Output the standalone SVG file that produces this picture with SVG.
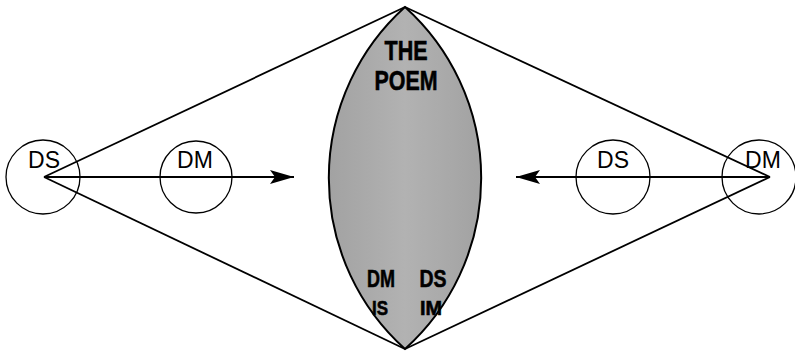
<svg xmlns="http://www.w3.org/2000/svg" width="795" height="353" viewBox="0 0 795 353">
<style>
.ln{stroke:#000;stroke-width:1.8;fill:none}
.c{stroke:#000;stroke-width:1.3;fill:none}
.lb{font-family:"Liberation Sans",Arial,sans-serif;font-size:23px;fill:#000;text-anchor:middle}
.bd{font-family:"Liberation Sans",Arial,sans-serif;font-weight:bold;fill:#000;stroke:#000;stroke-width:0.6;text-anchor:middle}
</style>
<defs>
<marker id="ah" markerWidth="24" markerHeight="14" refX="24" refY="7" orient="auto" markerUnits="userSpaceOnUse">
<path d="M0,0 L24,7 L0,14 L5,7 Z" fill="#000"/>
</marker>
<linearGradient id="g" x1="0" y1="0" x2="1" y2="0">
<stop offset="0" stop-color="#a2a2a2"/>
<stop offset="0.5" stop-color="#b2b2b2"/>
<stop offset="1" stop-color="#a2a2a2"/>
</linearGradient>
</defs>
<g id="poem">
<path d="M405,7 A230,230 0 0,0 405,349 A230,230 0 0,0 405,7 Z" fill="url(#g)" stroke="#000" stroke-width="2"/>
<text class="bd" x="406" y="60" font-size="28" textLength="43" lengthAdjust="spacingAndGlyphs">THE</text>
<text class="bd" x="406" y="90" font-size="28" textLength="63" lengthAdjust="spacingAndGlyphs">POEM</text>
<text class="bd" x="381" y="287" font-size="23" textLength="28" lengthAdjust="spacingAndGlyphs">DM</text>
<text class="bd" x="433" y="287" font-size="23" textLength="27" lengthAdjust="spacingAndGlyphs">DS</text>
<text class="bd" x="380" y="315" font-size="21" textLength="16" lengthAdjust="spacingAndGlyphs">IS</text>
<text class="bd" x="431" y="315" font-size="21" textLength="22" lengthAdjust="spacingAndGlyphs">IM</text>
</g>
<g id="connectors">
<line class="ln" x1="44" y1="177" x2="405" y2="7"/>
<line class="ln" x1="44" y1="177" x2="405" y2="349"/>
<line class="ln" x1="770" y1="177" x2="405" y2="7"/>
<line class="ln" x1="770" y1="177" x2="405" y2="349"/>
<line class="ln" x1="44" y1="177" x2="294" y2="177" marker-end="url(#ah)"/>
<line class="ln" x1="770" y1="177" x2="516" y2="177" marker-end="url(#ah)"/>
</g>
<g id="ds-left">
<circle class="c" cx="43" cy="177" r="37"/>
<text class="lb" x="44" y="168">DS</text>
</g>
<g id="dm-left">
<circle class="c" cx="196" cy="177" r="36"/>
<text class="lb" x="195" y="168">DM</text>
</g>
<g id="ds-right">
<circle class="c" cx="613" cy="177" r="37"/>
<text class="lb" x="613" y="168">DS</text>
</g>
<g id="dm-right">
<circle class="c" cx="759" cy="177" r="37"/>
<text class="lb" x="763" y="168">DM</text>
</g>
</svg>
